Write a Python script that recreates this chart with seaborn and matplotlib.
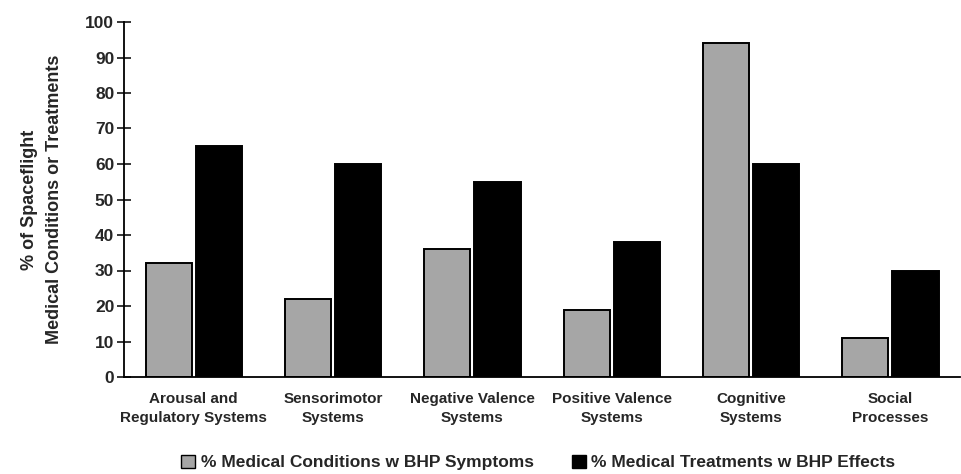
import matplotlib
matplotlib.use("Agg")
import matplotlib.pyplot as plt
import seaborn as sns
import pandas as pd
from matplotlib.patches import Patch
from matplotlib import font_manager

categories = [
    "Arousal and\nRegulatory Systems",
    "Sensorimotor\nSystems",
    "Negative Valence\nSystems",
    "Positive Valence\nSystems",
    "Cognitive\nSystems",
    "Social\nProcesses",
]
series_names = [
    "% Medical Conditions w BHP Symptoms",
    "% Medical Treatments w BHP Effects",
]
conditions = [32, 22, 36, 19, 94, 11]
treatments = [65, 60, 55, 38, 60, 30]
y_ticks = [0, 10, 20, 30, 40, 50, 60, 70, 80, 90, 100]

df = pd.DataFrame({
    "category": categories * 2,
    "series": [series_names[0]] * len(categories) + [series_names[1]] * len(categories),
    "value": conditions + treatments,
})

sns.set_theme(style="white")
names = {f.name for f in font_manager.fontManager.ttflist}
family = "Liberation Sans Narrow" if "Liberation Sans Narrow" in names else "Liberation Sans"
plt.rcParams["font.family"] = [family, "DejaVu Sans"]
plt.rcParams["font.weight"] = "bold"

colors = ["#a6a6a6", "#000000"]
fig = plt.figure(figsize=(9.61, 4.74), dpi=100)
ax = fig.add_axes([124 / 961, 1 - 377 / 474, 1 - 124 / 961 - 0.001, (377 - 22) / 474])

sns.barplot(data=df, x="category", y="value", hue="series", palette=colors,
            width=0.72, gap=0.08, edgecolor="black", linewidth=1.4,
            ax=ax, legend=False, errorbar=None)

ax.set_ylim(0, 100)
ax.set_xlim(-0.5, len(categories) - 0.5)
ax.set_yticks(y_ticks)
ax.set_yticklabels([str(t) for t in y_ticks], fontsize=12.5, fontweight="bold")
ax.tick_params(axis="y", direction="inout", length=10, width=1.3, left=True, pad=2)
ax.tick_params(axis="x", length=0, pad=11)
for lab in ax.get_xticklabels():
    lab.set_fontweight("bold")
    lab.set_fontsize(11)
    lab.set_linespacing(1.45)
ax.set_xlabel("")
ax.set_ylabel("% of Spaceflight\nMedical Conditions or Treatments",
              fontsize=13, fontweight="bold", labelpad=16, linespacing=1.6)
for side in ["top", "right"]:
    ax.spines[side].set_visible(False)
for side in ["left", "bottom"]:
    ax.spines[side].set_linewidth(1.3)
    ax.spines[side].set_color("black")

handles = [Patch(facecolor=c, edgecolor="black", linewidth=1.0) for c in colors]
fig.legend(handles, series_names, loc="lower center", bbox_to_anchor=(0.56, -0.025),
           ncol=2, frameon=False,
           prop={"size": 12.5, "weight": "bold", "family": [family, "DejaVu Sans"]},
           handlelength=0.8, handleheight=0.8, handletextpad=0.3, columnspacing=2.2)

fig.savefig("out.png", dpi=100)
